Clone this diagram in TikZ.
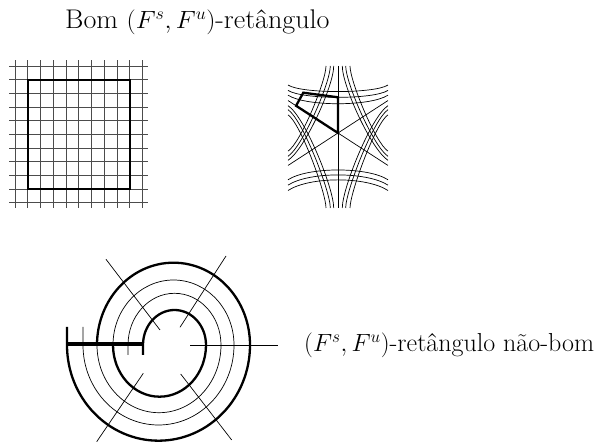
\documentclass[tikz,border=0pt]{standalone}
\usepackage{fontspec}
\usetikzlibrary{calc}
\newcommand\leafcurve[4]{%
  \pgfmathsetmacro\lfNa{#1+90}%
  \pgfmathsetmacro\lfNb{#2-90}%
  \pgfmathsetmacro\lfLa{abs(cos(#1))<0.1 ? (sin(#1)>0 ? 67 : 75) : (50*sign(cos(#1)) - #3*cos(\lfNa))/(cos(#1)+(abs(cos(#1))<0.1))}%
  \pgfmathsetmacro\lfLb{abs(cos(#2))<0.1 ? (sin(#2)>0 ? 67 : 75) : (50*sign(cos(#2)) - #3*cos(\lfNb))/(cos(#2)+(abs(cos(#2))<0.1))}%
  \pgfmathsetmacro\lfRa{\lfLa-#4}%
  \pgfmathsetmacro\lfRb{\lfLb-#4}%
  \draw[thinln] ($(C)+(#1:\lfLa)+(\lfNa:#3)$) .. controls ($(C)+(#1:\lfRa)+(\lfNa:#3)$) and ($(C)+(#2:\lfRb)+(\lfNb:#3)$) .. ($(C)+(#2:\lfLb)+(\lfNb:#3)$);%
}
\begin{document}
\begin{tikzpicture}[x=1pt,y=1pt,
  thinln/.style={line width=0.7pt},
  thickln/.style={line width=2.3pt},
  gridln/.style={line width=0.9pt, black!70},
  barln/.style={line width=4pt},
  lbl/.style={inner sep=0pt, font=\fontsize{26}{30}\selectfont}]
\useasboundingbox (0,0) rectangle (603,444);
% ---- grid with good rectangle
\foreach \i in {0,...,10} {
  \draw[gridln] ({15+12.77*\i},236) -- ({15+12.77*\i},384);
  \draw[gridln] (9,{378-13.67*\i}) -- (148,{378-13.67*\i});
}
\draw[thickln] (27.77,255) rectangle (129.93,364.33);
% ---- 3-prong singularities
\coordinate (C) at (338,311);
\draw[thinln] ($(C)+(0,67)$) -- ($(C)+(0,-75)$);
\draw[thinln] ($(C)+(33:59.6)$) -- ($(C)+(213:59.6)$);
\draw[thinln] ($(C)+(147:59.6)$) -- ($(C)+(327:59.6)$);
% F^s top sector
\leafcurve{33}{147}{4.5}{21}
\leafcurve{33}{147}{8.5}{17}
\leafcurve{33}{147}{13}{16}
% F^s lower-left and lower-right, F^u upper-left and upper-right
\foreach \d/\t in {4.3/20, 7.7/17, 12/15} {
  \leafcurve{147}{270}{\d}{\t}
  \leafcurve{270}{393}{\d}{\t}
  \leafcurve{90}{213}{\d}{\t}
  \leafcurve{327}{450}{\d}{\t}
}
% F^u bottom sector
\leafcurve{213}{327}{12}{24}
\leafcurve{213}{327}{16.5}{25}
\leafcurve{213}{327}{21}{26}
% rectangle with a corner at the singularity
\draw[thickln, line join=miter] (C) -- ($(C)+(0,35.7)$) -- (303.3,351.3) -- ($(C)+(147:50)$) -- cycle;
% ---- spiral (non-good rectangle)
\draw[thickln] (67,117) -- (67,99) arc[start angle=180, end angle=360, x radius=91.5, y radius=95.7]
  arc[start angle=0, end angle=180, x radius=76.5, y radius=82.3];
\draw[thinln] (83,117) -- (83,99) arc[start angle=180, end angle=360, x radius=75.5, y radius=80]
  arc[start angle=0, end angle=180, x radius=60.5, y radius=65];
\draw[thinln] (97,99) arc[start angle=180, end angle=360, x radius=62, y radius=67.7]
  arc[start angle=0, end angle=180, x radius=46.5, y radius=51.7] -- ++(0,-10);
\draw[thickln] (113,99) arc[start angle=180, end angle=360, x radius=46.5, y radius=51.7]
  arc[start angle=0, end angle=180, x radius=31.5, y radius=35] -- ++(0,-10);
\draw[barln] (66.7,99.5) -- (143.3,99.5);
% radial leaves
\draw[thinln] (190,99) -- (278.3,99);
\draw[thinln] (160,114) -- (106,184.7);
\draw[thinln] (180,116.7) -- (226,188);
\draw[thinln] (143.3,70.7) -- (96.7,2.3);
\draw[thinln] (180.7,70) -- (231.7,4);
% ---- labels
\node[lbl, anchor=base west, font=\fontsize{27}{31}\selectfont, xscale=1.04] (title) at (65,415) {Bom $(F^s,F^u)$-retângulo};
\node[lbl, anchor=base west] (nonbom) at (304,92) {$(F^s,F^u)$-retângulo não-bom};
\end{tikzpicture}
\end{document}
